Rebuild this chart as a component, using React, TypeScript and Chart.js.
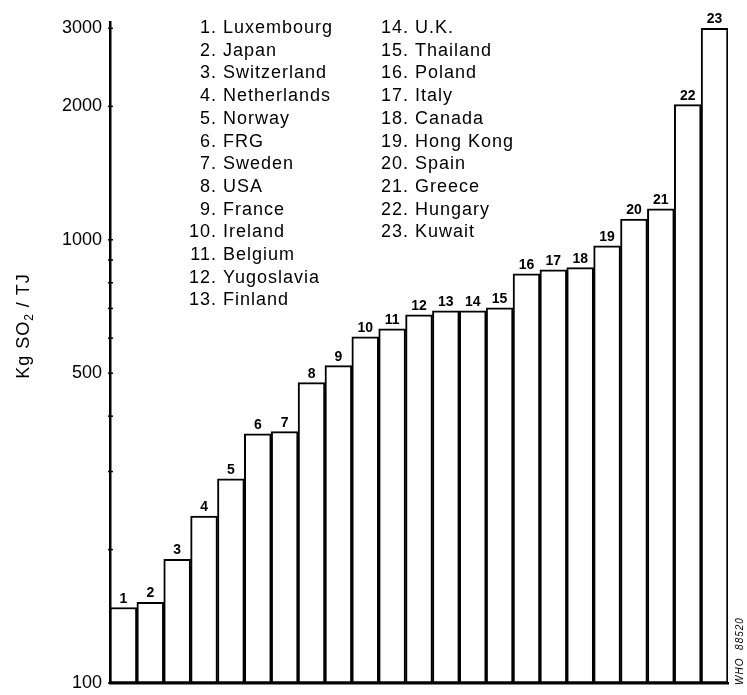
import React, { useEffect, useRef } from "react";
import { Chart, registerables } from "chart.js";

Chart.register(...registerables);

const categories = [
  "Luxembourg", "Japan", "Switzerland", "Netherlands", "Norway", "FRG", "Sweden",
  "USA", "France", "Ireland", "Belgium", "Yugoslavia", "Finland", "U.K.",
  "Thailand", "Poland", "Italy", "Canada", "Hong Kong", "Spain", "Greece",
  "Hungary", "Kuwait",
];
const barNumbers = [
  "1", "2", "3", "4", "5", "6", "7", "8", "9", "10", "11", "12",
  "13", "14", "15", "16", "17", "18", "19", "20", "21", "22", "23",
];
const values = [
  148, 152, 190, 238, 289, 365, 369, 476, 520, 604, 630, 677,
  691, 691, 702, 838, 856, 865, 969, 1114, 1175, 2018, 3000,
];
const yTickValues = [100, 200, 300, 400, 500, 600, 700, 800, 900, 1000, 2000, 3000];
const yLabeledTicks = [100, 500, 1000, 2000, 3000];
const yTitleMain = "Kg SO";
const yTitleSub = "2";
const yTitleRest = " / TJ";
const stampText = "WHO  88520";

const FONT = "'Liberation Sans', Arial, sans-serif";

const decorPlugin = {
  id: "decor",
  afterDatasetsDraw(chart: any) {
    const ctx = chart.ctx;
    const meta = chart.getDatasetMeta(0);
    const yScale = chart.scales.y;
    const left = chart.chartArea.left;

    // bar number labels
    ctx.save();
    ctx.fillStyle = "#000";
    ctx.font = `bold 14px ${FONT}`;
    ctx.textAlign = "center";
    ctx.textBaseline = "alphabetic";
    meta.data.forEach((bar: any, i: number) => {
      ctx.fillText(barNumbers[i], bar.x, bar.y - 5);
    });
    ctx.restore();

    // minor ticks on y axis
    ctx.save();
    ctx.strokeStyle = "#000";
    ctx.lineWidth = 1.5;
    yTickValues.forEach((v) => {
      const y = yScale.getPixelForValue(v);
      ctx.beginPath();
      ctx.moveTo(left - 2, y);
      ctx.lineTo(left + 3, y);
      ctx.stroke();
    });
    ctx.restore();

    // legend text (two columns)
    ctx.save();
    ctx.fillStyle = "#000";
    ctx.font = `18px ${FONT}`;
    (ctx as any).letterSpacing = "1px";
    ctx.textBaseline = "alphabetic";
    categories.forEach((name, i) => {
      const col = i < 13 ? 0 : 1;
      const row = col === 0 ? i : i - 13;
      const numRight = col === 0 ? 217 : 409;
      const nameLeft = col === 0 ? 223 : 415;
      const y = 33 + row * 22.7;
      ctx.textAlign = "right";
      ctx.fillText(barNumbers[i] + ".", numRight, y);
      ctx.textAlign = "left";
      ctx.fillText(name, nameLeft, y);
    });
    ctx.restore();

    // y axis title
    ctx.save();
    ctx.fillStyle = "#000";
    ctx.translate(29, 326);
    ctx.rotate(-Math.PI / 2);
    (ctx as any).letterSpacing = "1px";
    ctx.textBaseline = "alphabetic";
    ctx.textAlign = "left";
    const mainFont = `18px ${FONT}`;
    const subFont = `12px ${FONT}`;
    ctx.font = mainFont;
    const w1 = ctx.measureText(yTitleMain).width;
    const w3 = ctx.measureText(yTitleRest).width;
    ctx.font = subFont;
    const w2 = ctx.measureText(yTitleSub).width;
    let x = -(w1 + w2 + w3) / 2;
    ctx.font = mainFont;
    ctx.fillText(yTitleMain, x, 0);
    x += w1;
    ctx.font = subFont;
    ctx.fillText(yTitleSub, x, 4);
    x += w2;
    ctx.font = mainFont;
    ctx.fillText(yTitleRest, x, 0);
    ctx.restore();

    // stamp
    ctx.save();
    ctx.fillStyle = "#000";
    ctx.translate(743, 651);
    ctx.rotate(-Math.PI / 2);
    ctx.font = `italic 10px ${FONT}`;
    (ctx as any).letterSpacing = "1px";
    ctx.textAlign = "center";
    ctx.textBaseline = "alphabetic";
    ctx.fillText(stampText, 0, 0);
    ctx.restore();
  },
};

export default function App() {
  const canvasRef = useRef<HTMLCanvasElement | null>(null);

  useEffect(() => {
    if (!canvasRef.current) return;
    const chart = new Chart(canvasRef.current, {
      type: "bar",
      data: {
        labels: categories,
        datasets: [
          {
            data: values,
            backgroundColor: "#ffffff",
            borderColor: "#000000",
            borderWidth: 2,
            borderSkipped: false,
            barPercentage: 1,
            categoryPercentage: 1,
          },
        ],
      },
      options: {
        responsive: false,
        animation: false,
        devicePixelRatio: 1,
        layout: { padding: { left: 0, right: 19, top: 22, bottom: 12 } },
        plugins: {
          legend: { display: false },
          tooltip: { enabled: false },
          title: { display: false },
        },
        scales: {
          x: {
            type: "category",
            ticks: { display: false },
            grid: { display: false, drawTicks: false },
            border: { display: true, color: "#000", width: 2.5 },
            afterFit(scale: any) {
              scale.height = 0;
              scale.paddingLeft = 0;
              scale.paddingRight = 0;
            },
          },
          y: {
            type: "logarithmic",
            min: 100,
            max: 3100,
            afterBuildTicks(scale: any) {
              scale.ticks = yTickValues.map((v) => ({ value: v }));
            },
            afterFit(scale: any) {
              scale.width = 110;
              scale.paddingTop = 0;
              scale.paddingBottom = 0;
            },
            ticks: {
              color: "#000",
              padding: 8,
              autoSkip: false,
              font: { family: FONT, size: 18 },
              callback: (v: any) => (yLabeledTicks.includes(Number(v)) ? String(v) : ""),
            },
            grid: { display: false, drawTicks: false },
            border: { display: true, color: "#000", width: 2.5 },
          },
        },
      },
      plugins: [decorPlugin],
    });
    return () => chart.destroy();
  }, []);

  return (
    <div style={{ position: "fixed", left: 0, top: 0, width: 747, height: 695, background: "#fff" }}>
      <canvas ref={canvasRef} width={747} height={695} style={{ display: "block" }} />
    </div>
  );
}
